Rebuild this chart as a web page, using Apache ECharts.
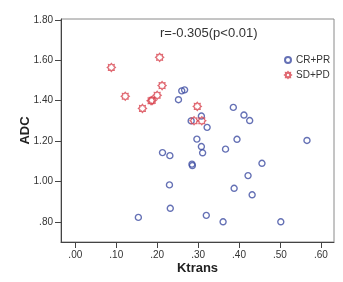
<!DOCTYPE html>
<html>
<head>
<meta charset="utf-8">
<script src="https://cdn.jsdelivr.net/npm/echarts@6/dist/echarts.min.js"></script>
<style>
  html, body { margin: 0; padding: 0; background: #fff; }
  #chart { width: 343px; height: 282px; }
</style>
</head>
<body>
<div id="chart"></div>
<script>
// CR+PR group: [Ktrans, ADC]
const crprPoints = [
  [0.260, 1.449], [0.267, 1.454], [0.252, 1.405], [0.386, 1.367], [0.308, 1.324],
  [0.412, 1.329], [0.426, 1.302], [0.283, 1.300], [0.322, 1.268], [0.297, 1.210],
  [0.395, 1.209], [0.566, 1.203], [0.308, 1.173], [0.367, 1.160], [0.213, 1.143],
  [0.311, 1.142], [0.231, 1.128], [0.456, 1.090], [0.285, 1.086], [0.286, 1.079],
  [0.422, 1.029], [0.230, 0.983], [0.388, 0.966], [0.432, 0.934], [0.232, 0.867],
  [0.320, 0.832], [0.154, 0.822], [0.361, 0.800], [0.502, 0.800]
]
// SD+PD group
const sdpdPoints = [
  [0.088, 1.565], [0.206, 1.615], [0.122, 1.422], [0.212, 1.475], [0.200, 1.427],
  [0.185, 1.400], [0.188, 1.402], [0.164, 1.362], [0.298, 1.372], [0.290, 1.301],
  [0.309, 1.301]
]
const xTicks = [0, 0.1, 0.2, 0.3, 0.4, 0.5, 0.6]
const yTicks = [0.8, 1.0, 1.2, 1.4, 1.6, 1.8]
const seriesNames = ['CR+PR', 'SD+PD']
const annotation = 'r=-0.305(p<0.01)'

// 8-point star marker (SPSS style)
function starPath(n, rOut, rIn) {
  let d = ''
  for (let i = 0; i < n * 2; i++) {
    const r = i % 2 === 0 ? rOut : rIn
    const a = Math.PI * i / n - Math.PI / 2
    const x = (50 + r * Math.cos(a)).toFixed(2)
    const y = (50 + r * Math.sin(a)).toFixed(2)
    d += (i === 0 ? 'M' : 'L') + x + ' ' + y + ' '
  }
  return 'path://' + d + 'Z'
}

const fmt = v => {
  const s = v.toFixed(2)
  return s.startsWith('0') ? s.slice(1) : s
}

const chart = echarts.init(document.getElementById('chart'))
const font = 'Liberation Sans, Arial, sans-serif'

const option = {
  backgroundColor: '#fff',
  animation: false,
  textStyle: { fontFamily: font },
  grid: {
    left: 61, right: 9, top: 19, bottom: 40,
    show: true, borderColor: '#8a8a8a', borderWidth: 1, backgroundColor: '#fff'
  },
  legend: {
    orient: 'vertical',
    left: 279, top: 50,
    itemWidth: 6, itemHeight: 6, itemGap: 5,
    textStyle: { fontSize: 10, color: '#333', fontFamily: font },
    data: seriesNames
  },
  graphic: [{
    type: 'text',
    left: 160, top: 27,
    style: { text: annotation, fontSize: 13, fill: '#333', fontFamily: font }
  }],
  xAxis: {
    type: 'value',
    min: -0.035, max: 0.632,
    name: 'Ktrans',
    nameLocation: 'middle',
    nameGap: 20,
    nameMoveOverlap: false,
    nameTextStyle: { fontSize: 13, fontWeight: 'bold', color: '#222', fontFamily: font },
    axisLine: { show: true, onZero: false, lineStyle: { color: '#444', width: 1 } },
    axisTick: { show: true, customValues: xTicks, length: 6, lineStyle: { color: '#444' } },
    axisLabel: { customValues: xTicks, formatter: fmt, fontSize: 10, color: '#333', margin: 8 },
    splitLine: { show: false }
  },
  yAxis: {
    type: 'value',
    min: 0.7, max: 1.805,
    name: 'ADC',
    nameLocation: 'middle',
    nameGap: 29,
    nameMoveOverlap: false,
    nameTextStyle: { fontSize: 13, fontWeight: 'bold', color: '#222', fontFamily: font },
    axisLine: { show: true, onZero: false, lineStyle: { color: '#444', width: 1 } },
    axisTick: { show: true, customValues: yTicks, length: 6, lineStyle: { color: '#444' } },
    axisLabel: { customValues: yTicks, formatter: fmt, fontSize: 10, color: '#333', margin: 8 },
    splitLine: { show: false }
  },
  series: [
    {
      name: seriesNames[0],
      type: 'scatter',
      data: crprPoints,
      symbol: 'circle',
      symbolSize: 6,
      itemStyle: { color: 'rgba(0,0,0,0)', borderColor: '#3f4ea3', borderWidth: 1.4 }
    },
    {
      name: seriesNames[1],
      type: 'scatter',
      data: sdpdPoints,
      symbol: starPath(8, 48, 34),
      symbolSize: 8,
      itemStyle: { color: 'rgba(0,0,0,0)', borderColor: '#d8434f', borderWidth: 1.3 }
    }
  ]
}

chart.setOption(option)
</script>
</body>
</html>
